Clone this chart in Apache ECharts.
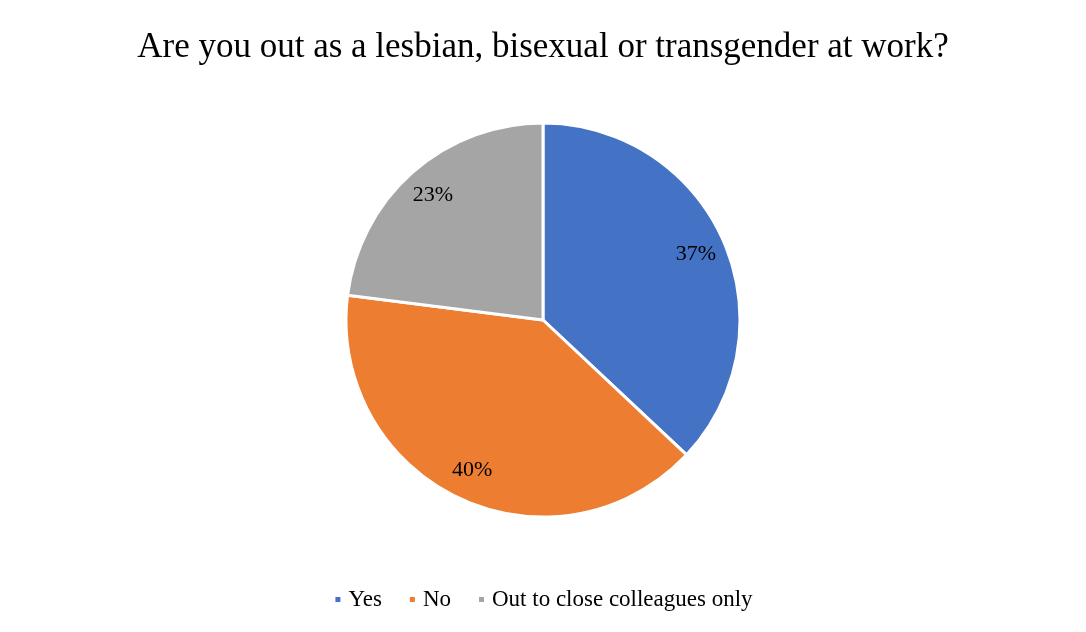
<!DOCTYPE html>
<html>
<head>
<meta charset="utf-8">
<script src="https://cdn.jsdelivr.net/npm/echarts@6/dist/echarts.min.js"></script>
<style>
html, body { margin: 0; padding: 0; background: #fff; }
#chart { width: 1086px; height: 632px; }
</style>
</head>
<body>
<div id="chart"></div>
<script>
// 饼图数据
var categories = ['Yes', 'No', 'Out to close colleagues only'];
var values = [37, 40, 23];
var colors = ['#4472C4', '#ED7D31', '#A5A5A5'];

function buildData() {
    var arr = [];
    for (var i = 0; i < categories.length; i++) {
        arr.push({ name: categories[i], value: values[i], itemStyle: { color: colors[i] } });
    }
    return arr;
}

var pieChart = echarts.init(document.getElementById('chart'));
var options = {
    title: {
        text: 'Are you out as a lesbian, bisexual or transgender at work?',
        left: 'center',
        top: 25,
        textStyle: {
            fontFamily: 'Liberation Serif',
            fontSize: 35,
            fontWeight: 'normal',
            color: '#000'
        }
    },
    legend: {
        bottom: 16,
        left: 'center',
        icon: 'rect',
        itemWidth: 7,
        itemHeight: 7,
        itemGap: 26,
        data: categories,
        textStyle: {
            fontFamily: 'Liberation Serif',
            fontSize: 23,
            color: '#000',
            padding: [0, 0, 0, 2]
        }
    },
    series: [{
        name: 'main',
        type: 'pie',
        center: [543, 320],
        radius: [0, 197],
        startAngle: 90,
        clockwise: true,
        label: { show: false },
        labelLine: { show: false },
        itemStyle: { borderColor: '#fff', borderWidth: 3 },
        emphasis: { disabled: true },
        data: buildData()
    }, {
        // 透明层, 只用来放标签
        name: 'labels',
        type: 'pie',
        center: [543, 320],
        radius: [130, 197],
        startAngle: 90,
        clockwise: true,
        silent: true,
        itemStyle: { color: 'transparent', borderWidth: 0 },
        label: {
            show: true,
            position: 'inside',
            formatter: '{c}%',
            fontFamily: 'Liberation Serif',
            fontSize: 22,
            color: '#000'
        },
        labelLine: { show: false },
        emphasis: { disabled: true },
        data: values.map(function (v, i) { return { name: categories[i], value: v, itemStyle: { color: 'transparent' } }; })
    }]
};
pieChart.setOption(options);
</script>
</body>
</html>
